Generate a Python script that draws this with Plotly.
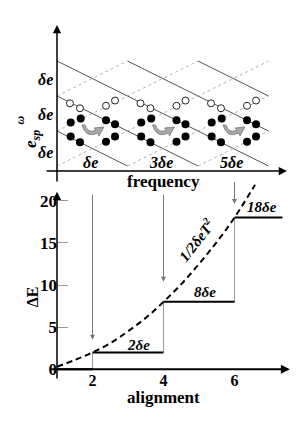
import plotly.graph_objects as go

W, H = 303, 436
OFF = 8  # page body margin added by the browser
SERIF = "Liberation Serif, Times New Roman, serif"

# ---------------- data: top panel (group index / energy level) ----------------
groups = [0, 1, 2]
group_labels = ["δe", "3δe", "5δe"]
level_labels = ["δe", "δe", "δe"]
level_label_y = [2.46, 1.46, 0.40]
solid_x0 = [0, 1, 2, 0, 0]
solid_y0 = [3, 3, 3, 2, 1]
solid_x1 = [3, 3, 3, 2, 1]
solid_y1 = [0, 1, 2, 0, 0]
dot_x0 = [0, 1, 2, 0, 0]
dot_y0 = [0, 0, 0, 1, 2]
dot_x1 = [3, 3, 3, 2, 1]
dot_y1 = [3, 2, 1, 3, 3]
open_dx = [0.184, 0.326, 0.695, 0.823]
open_y = [1.79, 1.65, 1.72, 1.87]
fill_dx = [0.194, 0.336, 0.695, 0.823, 0.194, 0.326, 0.695, 0.823]
fill_y = [1.24, 1.36, 1.31, 1.19, 0.84, 0.68, 0.69, 0.84]
swap_dx = 0.496
swap_y = 1.057

# ---------------- data: bottom panel ----------------
x_ticks = [2, 4, 6]
y_ticks = [0, 5, 10, 15, 20]
step_start = [1, 2, 4, 6]
step_end = [2, 4, 6, 7.35]
step_level = [0, 2, 8, 18]
step_labels = ["2δe", "8δe", "18δe"]
step_label_x = [3.29, 5.17, 6.77]
step_label_y = [2.88, 9.2, 19.3]
curve_T = [1.0, 1.5, 2.0, 2.5, 3.0, 3.5, 4.0, 4.5, 5.0, 5.5, 6.0, 6.58]
curve_E = [0.3, 1.1, 2.0, 3.1, 4.5, 6.1, 8.0, 10.1, 12.5, 15.1, 18.0, 21.9]
arrow_x = [2, 4, 6]
arrow_from = [20.9, 20.9, 22.4]
arrow_to = [3.5, 10.4, 19.6]

# ---------------- pixel scales (reference page pixels) ----------------
TX0, TXS, TY0, TYS = 57 - OFF, 70.5, 166 - OFF, 35.0      # top panel
BX0, BXS, BY0, BYS = 21.5 - OFF, 35.5, 369.3 - OFF, 8.43  # bottom panel
TOP_DOM = [0.5, 1.0]
BOT_DOM = [0.0, 0.64]

def tx(px): return (px - OFF - TX0) / TXS
def ty(py): return (TY0 - (py - OFF)) / TYS
def bx(px): return (px - OFF - BX0) / BXS
def by(py): return (BY0 - (py - OFF)) / BYS
def paper_x(px): return (px - OFF) / W
def paper_y(py): return 1 - (py - OFF) / H

fig = go.Figure()

# lattice lines (top)
sx, sy = [], []
for a, b, c, d in zip(solid_x0, solid_y0, solid_x1, solid_y1):
    sx += [a, c, None]; sy += [b, d, None]
fig.add_trace(go.Scatter(x=sx, y=sy, mode="lines", line=dict(color="#555", width=1),
                         xaxis="x", yaxis="y", hoverinfo="skip"))
dx_, dy_ = [], []
for a, b, c, d in zip(dot_x0, dot_y0, dot_x1, dot_y1):
    dx_ += [a, c, None]; dy_ += [b, d, None]
fig.add_trace(go.Scatter(x=dx_, y=dy_, mode="lines", line=dict(color="#b0b0b0", width=1, dash="dot"),
                         xaxis="x", yaxis="y", hoverinfo="skip"))

# circles
ox = [g + d for g in groups for d in open_dx]
oy = [v for g in groups for v in open_y]
fx = [g + d for g in groups for d in fill_dx]
fy = [v for g in groups for v in fill_y]
fig.add_trace(go.Scatter(x=ox, y=oy, mode="markers", xaxis="x", yaxis="y",
                         marker=dict(size=7, color="white", line=dict(color="#222", width=1))))
fig.add_trace(go.Scatter(x=fx, y=fy, mode="markers", xaxis="x", yaxis="y",
                         marker=dict(size=8, color="black")))

# curved swap arrows (shape template in px offsets)
TEMPLATE = [("M", -10, -4), ("Q", -6, 10, 6, 4), ("L", 7, 7), ("L", 12, -2),
            ("L", 2, -1), ("L", 4, 1), ("Q", -4, 5, -7, -4), ("Z",)]
shapes = []
for g in groups:
    cx, cy = g + swap_dx, swap_y
    parts = []
    for cmd in TEMPLATE:
        op = cmd[0]
        nums = cmd[1:]
        coords = []
        for i in range(0, len(nums), 2):
            coords.append(f"{cx + nums[i] / TXS:.4f},{cy - nums[i + 1] / TYS:.4f}")
        parts.append(op + " " + " ".join(coords))
    shapes.append(dict(type="path", path=" ".join(parts), xref="x", yref="y",
                       fillcolor="#a8a8a8", line=dict(color="#777", width=0.8)))

# ---------------- bottom panel traces ----------------
hx, hy = [], []
for a, b, lv in zip(step_start, step_end, step_level):
    hx += [a, b, None]; hy += [lv, lv, None]
vx, vy = [], []
for i in range(1, len(step_start)):
    vx += [step_start[i], step_start[i], None]
    vy += [step_level[i - 1], step_level[i], None]
fig.add_trace(go.Scatter(x=vx, y=vy, mode="lines", line=dict(color="#999", width=1),
                         xaxis="x2", yaxis="y2", hoverinfo="skip"))
fig.add_trace(go.Scatter(x=hx, y=hy, mode="lines", line=dict(color="black", width=2),
                         xaxis="x2", yaxis="y2", hoverinfo="skip"))
fig.add_trace(go.Scatter(x=curve_T, y=curve_E, mode="lines", line_shape="spline",
                         line=dict(color="black", width=2, dash="6px,4px"),
                         xaxis="x2", yaxis="y2", hoverinfo="skip"))

ann = []
def arrow(x, y, ax, ay, xr, yr, color="black", width=1.5, head=2, size=1.0):
    ann.append(dict(x=x, y=y, ax=ax, ay=ay, xref=xr, yref=yr, axref=xr, ayref=yr,
                    text="", showarrow=True, arrowhead=head, arrowsize=size,
                    arrowwidth=width, arrowcolor=color, standoff=0, startstandoff=0))

def label(text, x, y, xr, yr, size=15, angle=0, color="black"):
    ann.append(dict(x=x, y=y, xref=xr, yref=yr, text=text, showarrow=False,
                    textangle=angle, font=dict(family=SERIF, size=size, color=color)))

# top axes arrows
arrow(0, ty(25), 0, ty(183), "x", "y", width=1.5, size=1.1)
arrow(tx(287), ty(171), tx(45), ty(171), "x", "y", width=1.5, size=1.1)
# bottom axes arrows
arrow(1, 21.07, 1, -1.27, "x2", "y2", width=1.5, size=1.1)
arrow(7.56, 0, 0.8, 0, "x2", "y2", width=2, size=0.9)
# vertical arrows from the frequency panel
for x, a, b in zip(arrow_x, arrow_from, arrow_to):
    arrow(x, b, x, a, "x2", "y2", color="#777", width=1, head=2, size=1.0)

# top labels
for t, yv in zip(level_labels, level_label_y):
    label(f"<b><i>{t}</i></b>", tx(45), yv, "x", "y", size=16)
for g, t in zip(groups, group_labels):
    label(f"<b><i>{t}</i></b>", g + 0.47, 0.11, "x", "y", size=16)
label("<b>frequency</b>", tx(163), ty(181), "x", "y", size=17)
label("<b><i>e<sub>sp</sub></i></b>", paper_x(19), paper_y(128), "paper", "paper", size=17, angle=-90)
label("<b><i>ω</i></b>", paper_x(10), paper_y(114), "paper", "paper", size=12, angle=-90)

# bottom labels
for t, x, y in zip(step_labels, step_label_x, step_label_y):
    label(f"<b><i>{t}</i></b>", x, y, "x2", "y2", size=15)
label("<b><i>1/2δeT<sup>2</sup></i></b>", 4.94, 15.4, "x2", "y2", size=15, angle=-52)
label("<b>ΔE</b>", paper_x(22), paper_y(296.7), "paper", "paper", size=16, angle=-90)
label("<b>alignment</b>", bx(163), by(397), "x2", "y2", size=17)

bot_top_px = H * (1 - BOT_DOM[1])
top_bot_px = H * (1 - TOP_DOM[0])
fig.update_layout(
    width=W, height=H, margin=dict(l=0, r=0, t=0, b=0),
    paper_bgcolor="white", plot_bgcolor="rgba(0,0,0,0)", showlegend=False,
    xaxis=dict(domain=[0, 1], range=[(0 - TX0) / TXS, (W - TX0) / TXS], visible=False),
    yaxis=dict(domain=TOP_DOM, range=[(TY0 - top_bot_px) / TYS, TY0 / TYS], visible=False),
    xaxis2=dict(domain=[0, 1], range=[(0 - BX0) / BXS, (W - BX0) / BXS],
                anchor="free", position=(H - BY0) / H, showline=False, showgrid=False,
                zeroline=False, ticks="", tickvals=x_ticks,
                tickfont=dict(family=SERIF, size=16, color="black", weight="bold")),
    yaxis2=dict(domain=BOT_DOM, range=[(BY0 - H) / BYS, (BY0 - bot_top_px) / BYS],
                anchor="free", position=(BX0 + BXS) / W, showline=False, showgrid=False,
                zeroline=False, ticks="inside", ticklen=10, tickcolor="#999", tickwidth=1,
                tickvals=y_ticks,
                tickfont=dict(family=SERIF, size=17, color="black", weight="bold")),
    shapes=shapes, annotations=ann,
)
fig.write_html("out.html")
